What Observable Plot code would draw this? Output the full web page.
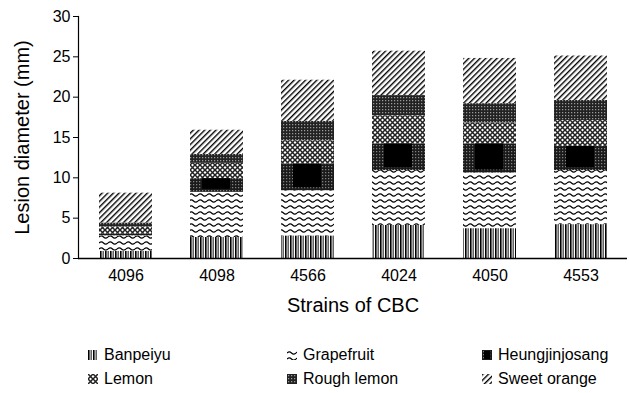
<!DOCTYPE html>
<html><head><meta charset="utf-8">
<script src="https://cdn.jsdelivr.net/npm/d3@7"></script>
<script src="https://cdn.jsdelivr.net/npm/@observablehq/plot@0.6"></script>
<style>
body{margin:0;background:#fff;font-family:"Liberation Sans",Arial,sans-serif;}
#legend{position:relative;width:629px;height:63px;font-size:16px;color:#000;}
.item{position:absolute;display:flex;align-items:center;line-height:1;}
.item svg{margin-right:6px;}
</style></head><body>
<svg width="0" height="0" style="position:absolute">
<defs>
  <pattern id="p-banpeiyu" patternUnits="userSpaceOnUse" width="5" height="4">
    <rect width="5" height="4" fill="#fff"/>
    <rect x="0" width="1.6" height="4" fill="#000"/>
    <rect x="2.6" width="1.1" height="4" fill="#222"/>
  </pattern>
  <pattern id="p-grapefruit" patternUnits="userSpaceOnUse" width="9" height="6">
    <rect width="9" height="6" fill="#fff"/>
    <path d="M0 3 Q2.25 0.8 4.5 3 T9 3" fill="none" stroke="#000" stroke-width="1.2"/>
  </pattern>
  <pattern id="p-grid" patternUnits="userSpaceOnUse" width="3" height="3">
    <rect width="3" height="3" fill="#1a1a1a"/>
    <rect x="1.2" y="1.2" width="1" height="1" fill="#bbb"/>
  </pattern>
  <pattern id="p-lemon" patternUnits="userSpaceOnUse" width="5" height="5">
    <rect width="5" height="5" fill="#fff"/>
    <path d="M0 0 L5 5 M5 0 L0 5" stroke="#222" stroke-width="1.5"/>
  </pattern>
  <pattern id="p-rough" patternUnits="userSpaceOnUse" width="3" height="3">
    <rect width="3" height="3" fill="#222"/>
    <rect x="1.2" y="1.2" width="1" height="1" fill="#ddd"/>
  </pattern>
  <pattern id="p-sweet" patternUnits="userSpaceOnUse" width="4" height="10" patternTransform="rotate(45)">
    <rect width="4" height="10" fill="#fff"/>
    <rect x="0" width="1.4" height="10" fill="#000"/>
  </pattern>
</defs></svg>
<div id="chart"></div>
<div id="legend"></div>
<script>
const strains = ["4096","4098","4566","4024","4050","4553"];
const cultivars = ["Banpeiyu","Grapefruit","Heungjinjosang","Lemon","Rough lemon","Sweet orange"];
const banpeiyu       = [0.9, 2.6, 2.8, 4.1, 3.7, 4.2];
const grapefruit     = [1.9, 5.6, 5.6, 6.8, 6.9, 6.7];
const heungjinjosang = [0.2, 1.7, 3.3, 3.3, 3.6, 3.0];
const lemon          = [0.9, 1.9, 2.9, 3.5, 2.6, 3.2];
const roughLemon     = [0.5, 1.1, 2.4, 2.5, 2.4, 2.5];
const sweetOrange    = [3.7, 3.0, 5.1, 5.5, 5.6, 5.5];
const yTicks = [0, 5, 10, 15, 20, 25, 30];
const patterns = ["url(#p-banpeiyu)","url(#p-grapefruit)","url(#p-grid)","url(#p-lemon)","url(#p-rough)","url(#p-sweet)"];

const seriesValues = [banpeiyu, grapefruit, heungjinjosang, lemon, roughLemon, sweetOrange];
const data = [];
cultivars.forEach((c, i) => strains.forEach((s, j) => data.push({cultivar: c, strain: s, value: seriesValues[i][j]})));

const stackOpts = {x: "strain", y: "value", z: "cultivar"};
const chart = Plot.plot({
  width: 629, height: 330,
  marginTop: 16, marginBottom: 72, marginLeft: 78, marginRight: 2,
  style: {fontFamily: "Liberation Sans, Arial, sans-serif", fontSize: "15px", color: "#000", background: "#fff", overflow: "visible"},
  x: {domain: strains, paddingInner: 0.42, paddingOuter: 0.21, label: null},
  y: {domain: [0, 30], label: null},
  color: {type: "ordinal", domain: cultivars, range: patterns},
  marks: [
    Plot.barY(data, Plot.stackY({...stackOpts, fill: "cultivar"})),
    Plot.barY(data, Plot.filter(d => d.cultivar === "Heungjinjosang",
      Plot.stackY({...stackOpts, fill: "#000", insetLeft: 12, insetRight: 13, insetBottom: 3}))),
    Plot.ruleY([0], {stroke: "#000", strokeWidth: 1.5}),
    Plot.frame({anchor: "left", stroke: "#000", strokeWidth: 1.2}),
    Plot.axisY({ticks: yTicks, tickSize: 5, tickPadding: 3, label: null, fontSize: 16}),
    Plot.axisX({tickSize: 0, tickPadding: 11, label: null, fontSize: 16}),
    Plot.text(["Strains of CBC"], {frameAnchor: "bottom", dy: 53, fontSize: 20}),
    Plot.text(["Lesion diameter (mm)"], {frameAnchor: "left", textAnchor: "middle", rotate: -90, dx: -56, fontSize: 20})
  ]
});
document.getElementById("chart").appendChild(chart);

const legendPos = [[88, 25], [287, 25], [482, 25], [88, 49], [287, 49], [482, 49]];
const legend = document.getElementById("legend");
cultivars.forEach((c, i) => {
  const div = document.createElement("div");
  div.className = "item";
  div.style.left = legendPos[i][0] + "px";
  div.style.top = (legendPos[i][1] - 8) + "px";
  let sw = `<svg width="10" height="10"><rect width="10" height="10" fill="${patterns[i]}"/>`;
  if (c === "Heungjinjosang") sw += `<rect x="2" y="1" width="6" height="8" fill="#000"/>`;
  sw += `</svg>`;
  div.innerHTML = sw + `<span>${c}</span>`;
  legend.appendChild(div);
});
</script>
</body></html>
